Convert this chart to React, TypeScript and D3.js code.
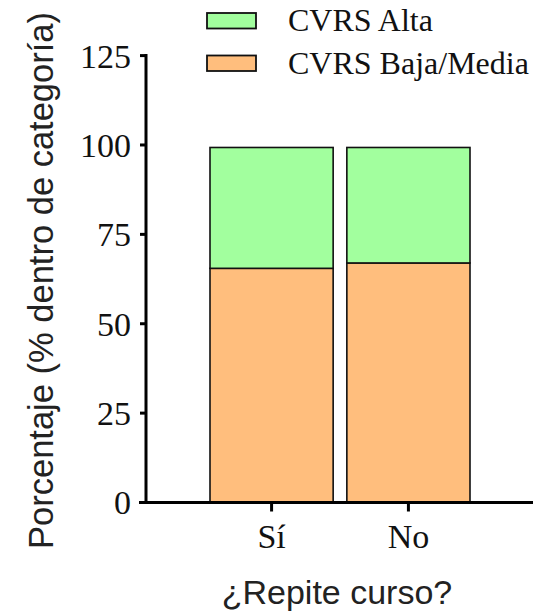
import React from "react";
import * as d3 from "d3";

const categories = ["Sí", "No"];
const bajaMedia = [65.5, 67.0];
const alta = [33.8, 32.3];
const yTicks = [0, 25, 50, 75, 100, 125];
const seriesNames = ["CVRS Alta", "CVRS Baja/Media"];
const colors = { alta: "#A2FF9E", baja: "#FFBE7D" };

const W = 536;
const H = 612;
const serif = "'Liberation Serif', 'Times New Roman', serif";
const sans = "'Liberation Sans', Arial, sans-serif";

export default function App() {
  const y = d3.scaleLinear().domain([0, 125]).range([502.5, 55.6]);
  const x = d3.scaleBand<string>().domain(categories).range([210, 470]).paddingInner(0.1).paddingOuter(0);
  const axisX = 146;
  const axisY = y(0);

  return (
    <svg width={W} height={H} style={{ position: "absolute", left: 0, top: 0, background: "#fff" }}>
      {/* bars */}
      {categories.map((c, i) => {
        const x0 = x(c)!;
        const bw = x.bandwidth();
        return (
          <g key={c}>
            <rect x={x0} y={y(bajaMedia[i])} width={bw} height={y(0) - y(bajaMedia[i])} fill={colors.baja} stroke="#111" strokeWidth={1.6} />
            <rect x={x0} y={y(bajaMedia[i] + alta[i])} width={bw} height={y(bajaMedia[i]) - y(bajaMedia[i] + alta[i])} fill={colors.alta} stroke="#111" strokeWidth={1.6} />
          </g>
        );
      })}
      {/* y axis */}
      <line x1={axisX} x2={axisX} y1={y(125) - 1.5} y2={axisY + 1.5} stroke="#000" strokeWidth={3} />
      {yTicks.map((t) => (
        <g key={t}>
          <line x1={t === 0 ? 139 : 140} x2={axisX} y1={y(t)} y2={y(t)} stroke="#000" strokeWidth={3} />
          <text x={131} y={y(t)} dy="0.35em" textAnchor="end" fontFamily={serif} fontSize={34} fill="#111">
            {t}
          </text>
        </g>
      ))}
      {/* x axis */}
      <line x1={139} x2={533} y1={axisY} y2={axisY} stroke="#000" strokeWidth={3} />
      {categories.map((c) => {
        const cx = x(c)! + x.bandwidth() / 2;
        return (
          <g key={c}>
            <line x1={cx} x2={cx} y1={axisY} y2={axisY + 9} stroke="#000" strokeWidth={3} />
            <text x={cx} y={548} textAnchor="middle" fontFamily={serif} fontSize={34} fill="#111">
              {c}
            </text>
          </g>
        );
      })}
      {/* axis titles */}
      <text x={337} y={604} textAnchor="middle" fontFamily={sans} fontSize={34} fill="#222">
        ¿Repite curso?
      </text>
      <text transform={`translate(53, 280.5) rotate(-90)`} textAnchor="middle" fontFamily={sans} fontSize={34.5} fill="#222">
        Porcentaje (% dentro de categoría)
      </text>
      {/* legend */}
      {seriesNames.map((s, i) => (
        <g key={s}>
          <rect x={207} y={13 + i * 42.5} width={49} height={15.5} fill={i === 0 ? colors.alta : colors.baja} stroke="#111" strokeWidth={1.8} />
          <text x={288} y={31 + i * 42.5} fontFamily={serif} fontSize={32} fill="#111">
            {s}
          </text>
        </g>
      ))}
    </svg>
  );
}
